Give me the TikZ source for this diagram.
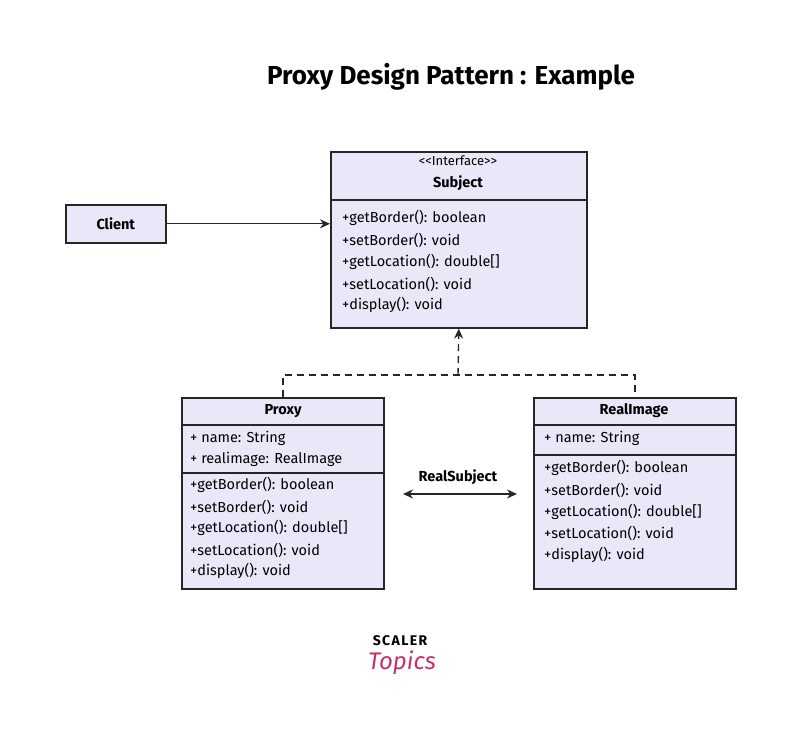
\documentclass[tikz,border=0pt]{standalone}
\usepackage{fontspec}
\setmainfont{Fira Sans}
\usetikzlibrary{arrows.meta}
\definecolor{boxfill}{HTML}{E8E8F8}
\definecolor{scred}{HTML}{C8306A}
\begin{document}
\begin{tikzpicture}[x=1pt,y=-1pt,
  box/.style={draw=black!85,line width=1.6pt,fill=boxfill,rectangle,inner sep=0pt,anchor=north west},
  mtxt/.style={anchor=west,inner sep=0pt,font=\fontsize{14.5}{16}\selectfont},
  htxt/.style={inner sep=0pt,font=\fontsize{14.5}{16}\selectfont\bfseries},
  sep/.style={line width=1.4pt,draw=black!85},
  conn/.style={line width=1.4pt,draw=black!85},
  tip/.style={-{Stealth[length=10pt,width=9pt]}}]
\useasboundingbox (0,0) rectangle (800,735);
\node[font=\fontsize{26}{30}\selectfont\bfseries] (title) at (451,77) {Proxy Design Pattern : Example};

% Client
\node[box,minimum width=100pt,minimum height=38pt] (client) at (65,204) {};
\node[htxt] (clientt) at (client.center) {Client};

% Subject
\node[box,minimum width=256pt,minimum height=176pt] (subj) at (330,151) {};
\draw[sep] (330,200) -- (586,200);
\node[inner sep=0pt,font=\fontsize{13}{14}\selectfont] (si) at (458,161) {{<}{<}Interface{>}{>}};
\node[htxt] (st) at (458,183) {Subject};
\node[mtxt] (s1) at (342,218) {+getBorder(): boolean};
\node[mtxt] (s2) at (342,240) {+setBorder(): void};
\node[mtxt] (s3) at (342,262) {+getLocation(): double[]};
\node[mtxt] (s4) at (342,284) {+setLocation(): void};
\node[mtxt] (s5) at (342,305) {+display(): void};

% Proxy
\node[box,minimum width=202pt,minimum height=191pt] (proxy) at (181,397) {};
\draw[sep] (181,425) -- (383,425);
\draw[sep] (181,473) -- (383,473);
\node[htxt] (pt) at (283,411) {Proxy};
\node[mtxt] (p1) at (190,438) {+ name: String};
\node[mtxt] (p2) at (190,459) {+ realimage: RealImage};
\node[mtxt] (p3) at (190,485) {+getBorder(): boolean};
\node[mtxt] (p4) at (190,507) {+setBorder(): void};
\node[mtxt] (p5) at (190,528) {+getLocation(): double[]};
\node[mtxt] (p6) at (190,550) {+setLocation(): void};
\node[mtxt] (p7) at (190,571) {+display(): void};

% RealImage
\node[box,minimum width=202pt,minimum height=191pt] (real) at (533,397) {};
\draw[sep] (533,425) -- (735,425);
\draw[sep] (533,455) -- (735,455);
\node[htxt] (rt) at (634,411) {RealImage};
\node[mtxt] (r1) at (544,438) {+ name: String};
\node[mtxt] (r2) at (544,468) {+getBorder(): boolean};
\node[mtxt] (r3) at (544,490) {+setBorder(): void};
\node[mtxt] (r4) at (544,512) {+getLocation(): double[]};
\node[mtxt] (r5) at (544,533) {+setLocation(): void};
\node[mtxt] (r6) at (544,555) {+display(): void};

% connectors
\draw[conn,tip] (client.east) -- (client.east -| subj.west);
\coordinate (jn) at (458,375);
\draw[conn,dash pattern=on 7pt off 5pt] (proxy.north) |- (jn) -| (real.north);
\draw[conn,dash pattern=on 7pt off 5pt,tip] (jn) -- (subj.south);

\node[htxt] (rs) at (458,477) {RealSubject};
\coordinate (la) at (403,494);
\coordinate (ra) at (517,494);
\draw[conn,{Stealth[length=10pt,width=9pt]}-{Stealth[length=10pt,width=9pt]}] (la) -- (ra);

% logo
\node[inner sep=0pt,font=\fontsize{14}{15}\selectfont\bfseries] (sc) at (400,641) {\addfontfeature{LetterSpace=10}SCALER};
\node[inner sep=0pt,text=scred,font=\fontsize{24}{26}\selectfont\itshape] (tp) at (402,663) {Topics};
\end{tikzpicture}
\end{document}
